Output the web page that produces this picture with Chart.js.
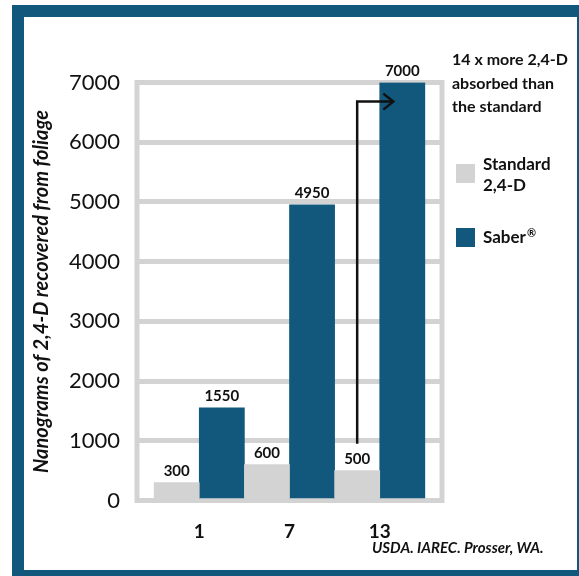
<!DOCTYPE html>
<html>
<head>
<meta charset="utf-8">
<script src="https://cdn.jsdelivr.net/npm/chart.js@4"></script>
<style>
  html, body { margin: 0; padding: 0; background: #fff; overflow: hidden; }
  #frame { position: absolute; left: 12px; top: 5px; width: 577px; height: 577px; box-sizing: border-box; border: 12px solid #12577c; }
  #wrap { position: absolute; left: 0; top: 0; width: 579px; height: 576px; }
</style>
</head>
<body>
<div id="frame"></div>
<div id="wrap"><canvas id="myChart" width="579" height="576"></canvas></div>
<script>
var categories = ['1', '7', '13'];
var standardValues = [300, 600, 500];
var saberValues = [1550, 4950, 7000];
var seriesNames = ['Standard 2,4-D', 'Saber®'];
var legendLines = [['Standard', '2,4-D'], ['Saber®']];
var noteLines = ['14 x more 2,4-D', 'absorbed than', 'the standard'];
var arrowValues = [950, 6680];
var sourceText = 'USDA. IAREC. Prosser, WA.';
var yTitle = 'Nanograms of 2,4-D recovered from foliage';

var gray = '#d3d3d3';
var blue = '#12577c';
var ink = '#111111';

// draws text, with a trailing ® set small and raised
function drawMark(ctx, t, x, y) {
  if (t.slice(-1) === '®') {
    var base = t.slice(0, -1);
    ctx.fillText(base, x, y);
    var w = ctx.measureText(base).width;
    var f = ctx.font;
    ctx.font = 'bold 11px Lato';
    ctx.fillText('®', x + w + 1, y - 5);
    ctx.font = f;
  } else {
    ctx.fillText(t, x, y);
  }
}

var extras = {
  id: 'extras',
  beforeDatasetsDraw: function (chart) {
    var a = chart.chartArea, ctx = chart.ctx;
    ctx.save();
    ctx.strokeStyle = gray;
    ctx.lineWidth = 5;
    ctx.strokeRect(a.left, a.top, a.right - a.left, a.bottom - a.top);
    ctx.restore();
  },
  afterDatasetsDraw: function (chart) {
    var ctx = chart.ctx, a = chart.chartArea;
    var y = chart.scales.y;
    ctx.save();
    // value labels
    ctx.fillStyle = ink;
    ctx.font = 'bold 15px Lato';
    ctx.textAlign = 'center';
    ctx.textBaseline = 'alphabetic';
    chart.data.datasets.forEach(function (ds, di) {
      chart.getDatasetMeta(di).data.forEach(function (el, i) {
        ctx.fillText(String(ds.data[i].y), el.x, el.y - 7);
      });
    });
    // arrow
    var g = chart.getDatasetMeta(0).data[2];
    var b = chart.getDatasetMeta(1).data[2];
    var y0 = y.getPixelForValue(arrowValues[0]);
    var y1 = y.getPixelForValue(arrowValues[1]);
    var tipX = b.x - 9;
    ctx.strokeStyle = ink;
    ctx.lineWidth = 2.5;
    ctx.beginPath();
    ctx.moveTo(g.x, y0);
    ctx.lineTo(g.x, y1);
    ctx.lineTo(tipX, y1);
    ctx.stroke();
    ctx.beginPath();
    ctx.moveTo(tipX - 10, y1 - 8);
    ctx.lineTo(tipX, y1);
    ctx.lineTo(tipX - 10, y1 + 8);
    ctx.stroke();

    // legend
    var lx = a.right + 14;
    var colors = [gray, blue];
    var boxY = [164, 228];
    ctx.textAlign = 'left';
    ctx.textBaseline = 'middle';
    ctx.font = 'bold 17px Lato';
    legendLines.forEach(function (lines, i) {
      ctx.fillStyle = colors[i];
      ctx.fillRect(lx, boxY[i], 19, 19);
      ctx.fillStyle = ink;
      var ty = lines.length > 1 ? boxY[i] + 1 : boxY[i] + 10;
      lines.forEach(function (t, k) {
        drawMark(ctx, t, lx + 27, ty + k * 21);
      });
    });

    // note
    ctx.font = 'bold 16px Lato';
    noteLines.forEach(function (t, k) {
      ctx.fillText(t, a.right + 10, 60 + k * 23.5);
    });

    // source
    ctx.font = 'italic bold 15px Lato';
    ctx.fillText(sourceText, 372, 548);
    ctx.restore();
  }
};

var ctx = document.getElementById('myChart').getContext('2d');
var myChart = new Chart(ctx, {
  type: 'bar',
  data: {
    datasets: [{
      label: seriesNames[0],
      data: standardValues.map(function (v, i) { return {x: i, y: v}; }),
      backgroundColor: gray,
      categoryPercentage: 1,
      barPercentage: 1
    }, {
      label: seriesNames[1],
      data: saberValues.map(function (v, i) { return {x: i, y: v}; }),
      backgroundColor: blue,
      categoryPercentage: 1,
      barPercentage: 1
    }]
  },
  options: {
    responsive: false,
    animation: false,
    layout: { padding: { top: 82.5, right: 137, bottom: 0, left: 0 } },
    plugins: { legend: { display: false }, tooltip: { enabled: false } },
    scales: {
      x: {
        type: 'linear',
        offset: false,
        bounds: 'data',
        min: -0.69,
        max: 2.69,
        afterBuildTicks: function (scale) {
          scale.ticks = categories.map(function (c, i) { return {value: i}; });
        },
        afterFit: function (scale) { scale.height = 75.5; },
        grid: { display: false, offset: false },
        border: { display: false },
        ticks: {
          padding: 12,
          color: ink,
          font: { family: 'Lato', size: 19, weight: 'bold' },
          callback: function (v) { return categories[v]; }
        }
      },
      y: {
        min: 0,
        max: 7000,
        afterFit: function (scale) { scale.width = 137; },
        grid: { color: gray, lineWidth: 5, drawTicks: false },
        border: { display: false },
        ticks: {
          stepSize: 1000,
          padding: 17,
          color: ink,
          font: { family: 'Lato', size: 22 },
          callback: function (v) { return String(v); }
        },
        title: {
          display: true,
          text: yTitle,
          color: ink,
          padding: { top: 30, bottom: 0 },
          font: { family: 'Lato', size: 20, weight: 'bold', style: 'italic' }
        }
      }
    }
  },
  plugins: [extras]
});
</script>
</body>
</html>
